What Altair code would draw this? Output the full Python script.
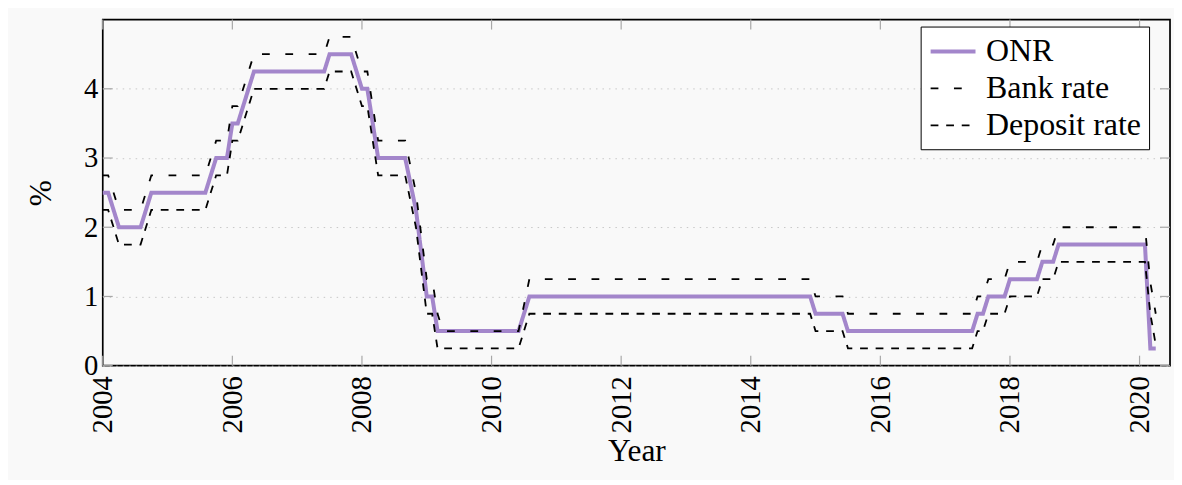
import altair as alt
import pandas as pd

series_names = ["ONR", "Bank rate", "Deposit rate"]
series_colors = ["#a386cb", "black", "black"]

onr_dates = ["2004-01", "2004-02", "2004-04", "2004-08", "2004-10", "2005-08", "2005-10", "2005-12",
             "2006-01", "2006-02", "2006-05", "2007-06", "2007-07", "2007-11", "2008-01", "2008-02",
             "2008-04", "2008-09", "2008-11", "2009-01", "2009-02", "2009-03", "2010-06", "2010-08",
             "2014-12", "2015-01", "2015-06", "2015-07", "2017-06", "2017-07", "2017-08", "2017-09",
             "2017-12", "2018-01", "2018-06", "2018-07", "2018-09", "2018-10", "2020-02", "2020-03",
             "2020-04"]
onr_values = [2.5, 2.5, 2.0, 2.0, 2.5, 2.5, 3.0, 3.0,
              3.5, 3.5, 4.25, 4.25, 4.5, 4.5, 4.0, 4.0,
              3.0, 3.0, 2.25, 1.0, 1.0, 0.5, 0.5, 1.0,
              1.0, 0.75, 0.75, 0.5, 0.5, 0.75, 0.75, 1.0,
              1.0, 1.25, 1.25, 1.5, 1.5, 1.75, 1.75, 0.25,
              0.25]

bank_dates = ["2004-01", "2004-02", "2004-04", "2004-08", "2004-10", "2005-08", "2005-10", "2005-12",
              "2006-01", "2006-02", "2006-05", "2007-06", "2007-07", "2007-11", "2008-01", "2008-02",
              "2008-04", "2008-09", "2008-11", "2009-01", "2009-02", "2009-03", "2009-04", "2010-06",
              "2010-08", "2014-12", "2015-01", "2015-06", "2015-07", "2017-06", "2017-07", "2017-08",
              "2017-09", "2017-12", "2018-01", "2018-06", "2018-07", "2018-09", "2018-10", "2020-02",
              "2020-03", "2020-04"]
bank_values = [2.75, 2.75, 2.25, 2.25, 2.75, 2.75, 3.25, 3.25,
               3.75, 3.75, 4.5, 4.5, 4.75, 4.75, 4.25, 4.25,
               3.25, 3.25, 2.5, 1.25, 1.25, 0.75, 0.5, 0.5,
               1.25, 1.25, 1.0, 1.0, 0.75, 0.75, 1.0, 1.0,
               1.25, 1.25, 1.5, 1.5, 1.75, 1.75, 2.0, 2.0,
               1.2, 0.75]

deposit_dates = ["2004-01", "2004-02", "2004-04", "2004-08", "2004-10", "2005-08", "2005-10", "2005-12",
                 "2006-01", "2006-02", "2006-05", "2007-06", "2007-07", "2007-11", "2008-01", "2008-02",
                 "2008-04", "2008-09", "2008-11", "2009-01", "2009-02", "2009-03", "2010-06", "2010-08",
                 "2014-12", "2015-01", "2015-06", "2015-07", "2017-06", "2017-07", "2017-08", "2017-09",
                 "2017-12", "2018-01", "2018-06", "2018-07", "2018-09", "2018-10", "2020-02", "2020-03",
                 "2020-04"]
deposit_values = [2.25, 2.25, 1.75, 1.75, 2.25, 2.25, 2.75, 2.75,
                  3.25, 3.25, 4.0, 4.0, 4.25, 4.25, 3.75, 3.75,
                  2.75, 2.75, 2.0, 0.75, 0.75, 0.25, 0.25, 0.75,
                  0.75, 0.5, 0.5, 0.25, 0.25, 0.5, 0.5, 0.75,
                  0.75, 1.0, 1.0, 1.25, 1.25, 1.5, 1.5, 0.75,
                  0.3]

x_ticks = [2004, 2006, 2008, 2010, 2012, 2014, 2016, 2018, 2020]
y_ticks = [0, 1, 2, 3, 4]


def to_year(d):
    y, m = d.split("-")
    return int(y) + (int(m) - 1) / 12.0


rows = []
for name, dates, vals in [("ONR", onr_dates, onr_values),
                          ("Bank rate", bank_dates, bank_values),
                          ("Deposit rate", deposit_dates, deposit_values)]:
    for i, (d, v) in enumerate(zip(dates, vals)):
        rows.append({"series": name, "year": to_year(d), "rate": v, "idx": i})
df = pd.DataFrame(rows)

W, H = 1070, 347
FONT = "Liberation Serif"
FS = 28.7
TFS = 31.5
LFS = 32
BG = "#f9f9f9"
TICK = "#a8a8a8"

xscale = alt.Scale(domain=[2004, 2020.47], nice=False, zero=False)
yscale = alt.Scale(domain=[0, 5], nice=False, zero=False)

legend = alt.Legend(
    title=None, orient="none", legendX=820, legendY=7,
    fillColor="white", strokeColor="black", padding=8, cornerRadius=0,
    symbolType="M-1.5,0H1.5", symbolSize=900, symbolOffset=7.5, labelOffset=16,
    rowPadding=5, labelFont=FONT, labelFontSize=LFS, labelColor="black",
)

x_enc = alt.X("year:Q", scale=xscale, axis=alt.Axis(
    values=x_ticks, format="d", labelAngle=270, labelPadding=10, ticks=False, domain=False,
    grid=False, title="Year", titlePadding=3, labelFont=FONT, labelFontSize=FS,
    titleFont=FONT, titleFontSize=TFS, titleFontWeight="normal", labelColor="black",
    titleColor="black"))
y_enc = alt.Y("rate:Q", scale=yscale, axis=alt.Axis(
    values=y_ticks, format="d", ticks=False, domain=False, grid=True, gridDash=[1.5, 5],
    gridColor="#c8c8c8", gridWidth=1, labelPadding=5, title="%", titlePadding=26,
    labelFont=FONT, labelFontSize=FS, titleFont=FONT, titleFontSize=TFS,
    titleFontWeight="normal", labelColor="black", titleColor="black"))

base = alt.Chart(df).mark_line(strokeCap="butt", strokeJoin="miter").encode(
    x=x_enc,
    y=y_enc,
    color=alt.Color("series:N", scale=alt.Scale(domain=series_names, range=series_colors), legend=legend),
    strokeDash=alt.StrokeDash("series:N", scale=alt.Scale(
        domain=series_names, range=[[1, 0], [7.8, 15.6], [7.8, 7.8]]), legend=legend),
    strokeWidth=alt.StrokeWidth("series:N", scale=alt.Scale(
        type="ordinal", domain=series_names, range=[4, 1.8, 1.8]), legend=legend),
    order="idx:Q",
)
onr_layer = base.transform_filter(alt.datum.series == "ONR")
dash_layer = base.transform_filter(alt.datum.series != "ONR")

xt = pd.DataFrame({"year": x_ticks})
yt = pd.DataFrame({"rate": y_ticks})
tick_x_bottom = alt.Chart(xt).mark_rule(color=TICK, strokeWidth=1.2).encode(
    x=alt.X("year:Q", scale=xscale), y=alt.value(H), y2=alt.value(H - 10))
tick_x_top = alt.Chart(xt).mark_rule(color=TICK, strokeWidth=1.2).encode(
    x=alt.X("year:Q", scale=xscale), y=alt.value(0), y2=alt.value(10))
tick_y_left = alt.Chart(yt).mark_rule(color=TICK, strokeWidth=1.2).encode(
    y=alt.Y("rate:Q", scale=yscale), x=alt.value(0), x2=alt.value(10))
tick_y_right = alt.Chart(yt).mark_rule(color=TICK, strokeWidth=1.2).encode(
    y=alt.Y("rate:Q", scale=yscale), x=alt.value(W - 10), x2=alt.value(W))

chart = alt.layer(
    onr_layer, dash_layer, tick_x_bottom, tick_x_top, tick_y_left, tick_y_right
).properties(
    width=W, height=H,
    autosize=alt.AutoSizeParams(type="none"),
    padding={"left": 95, "top": 11, "right": 4, "bottom": 114},
    background=BG,
).configure_view(
    stroke="black", strokeWidth=1.7, fill=BG
)

chart.save("out.html", embed_options={"renderer": "svg", "actions": False})
